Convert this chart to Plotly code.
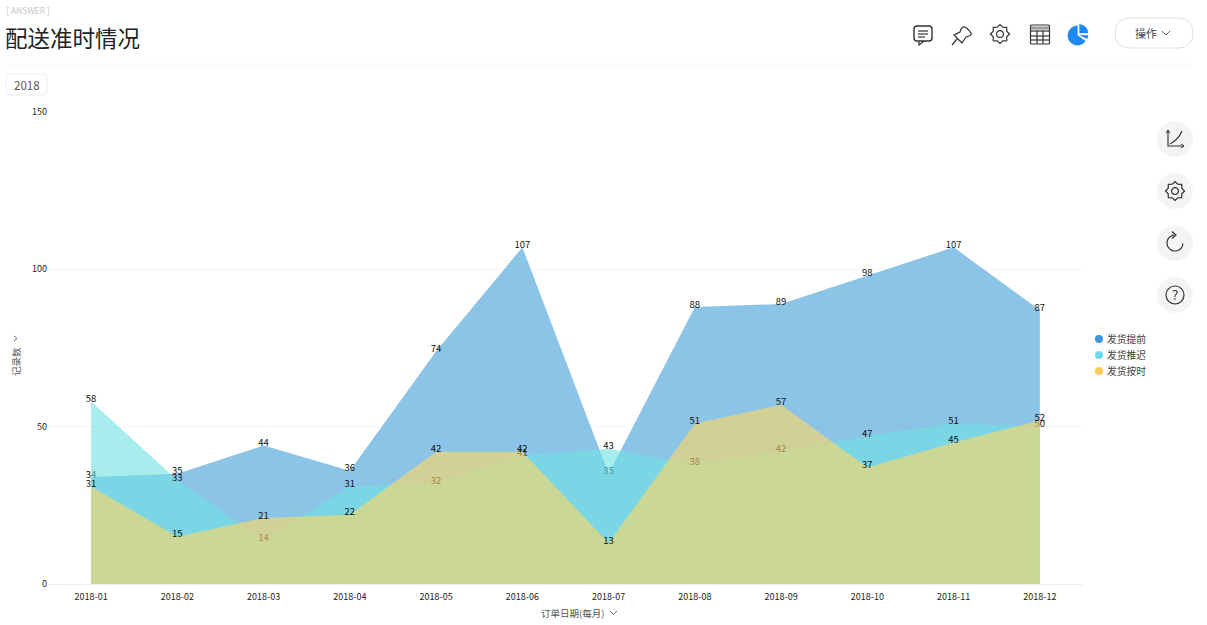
import math
import plotly.graph_objects as go

months = ["2018-01","2018-02","2018-03","2018-04","2018-05","2018-06","2018-07","2018-08","2018-09","2018-10","2018-11","2018-12"]
early = [34,35,44,36,74,107,35,88,89,98,107,87]
late = [58,33,14,31,32,41,43,38,42,47,51,50]
ontime = [31,15,21,22,42,42,13,51,57,37,45,52]
names = ["发货提前","发货推迟","发货按时"]
legend_colors = ["#3c97da","#6fd8f1","#ffcb5c"]
fill_colors = ["rgba(63,157,217,0.6)","rgba(110,225,225,0.6)","rgba(255,217,97,0.6)"]
y_ticks = [0,50,100,150]
FONT = "Noto Sans CJK SC, Noto Sans, sans-serif"
W, H = 1207, 625

fig = go.Figure()
for name, vals, fc in zip(names, [early, late, ontime], fill_colors):
    fig.add_trace(go.Scatter(x=months, y=vals, name=name, mode="lines+text", fill="tozeroy",
        fillcolor=fc, line=dict(width=0, color=fc), text=vals, textposition="top center",
        textfont=dict(size=9.5, color="#111", family=FONT), cliponaxis=False, showlegend=False,
        hoverinfo="x+y+name"))
fig.add_trace(go.Scatter(x=[None], y=[None], xaxis="x2", yaxis="y2", showlegend=False, hoverinfo="skip"))

shapes, ann = [], []
def P(d, color="#333", width=1.2, fill=None):
    shapes.append(dict(type="path", path=d, xref="x2", yref="y2", line=dict(color=color, width=width),
                       fillcolor=fill or "rgba(0,0,0,0)", layer="above"))
def L(x0, y0, x1, y1, color="#333", width=1.2):
    shapes.append(dict(type="line", x0=x0, y0=y0, x1=x1, y1=y1, xref="x2", yref="y2",
                       line=dict(color=color, width=width), layer="above"))
def C(cx, cy, r, line="rgba(0,0,0,0)", fill=None, width=1.2):
    shapes.append(dict(type="circle", x0=cx-r, x1=cx+r, y0=cy-r, y1=cy+r, xref="x2", yref="y2",
                       line=dict(color=line, width=width), fillcolor=fill or "rgba(0,0,0,0)", layer="above"))
def RR(x0, y0, x1, y1, r):
    return (f"M{x0+r},{y0} L{x1-r},{y0} Q{x1},{y0} {x1},{y0+r} L{x1},{y1-r} Q{x1},{y1} {x1-r},{y1} "
            f"L{x0+r},{y1} Q{x0},{y1} {x0},{y1-r} L{x0},{y0+r} Q{x0},{y0} {x0+r},{y0} Z")
def T(x, y, text, size=10, color="#333", anchor="left", angle=0):
    ann.append(dict(x=x, y=y, xref="x2", yref="y2", text=text, showarrow=False, xanchor=anchor, yanchor="middle",
                    font=dict(size=size, color=color, family=FONT), textangle=angle))
def arc(cx, cy, r, a0, a1, n=24):
    return [f"{cx+r*math.cos(math.radians(a0+(a1-a0)*i/n)):.2f},{cy+r*math.sin(math.radians(a0+(a1-a0)*i/n)):.2f}" for i in range(n+1)]
def wedge(cx, cy, r, a0, a1, col):
    P(f"M{cx},{cy} L"+" L".join(arc(cx, cy, r, a0, a1))+" Z", col, 0.3, col)
def gear(cx, cy, r):
    pts = []
    for i in range(16):
        rr = r if i % 2 == 0 else r*0.78
        a = i*math.pi/8
        pts.append(f"{cx+rr*math.cos(a):.1f},{cy+rr*math.sin(a):.1f}")
    P("M"+" L".join(pts)+" Z", "#333", 1.2)
    C(cx, cy, r*0.36, "#333")

# header
T(4, 10, "[ ANSWER ]", 8.5, "#c8c8c8")
T(3, 37, "配送准时情况", 22.5, "#222")
L(5, 64, 1193, 64, "#f4f4f4", 1)
P(RR(6, 74, 47, 95, 4), "#ececec", 1)
T(26.5, 85, "2018", 11.5, "#555", "center")

# toolbar icons
P(RR(914, 26, 932, 41, 3), "#333", 1.4)
L(918, 31, 928, 31); L(918, 34, 928, 34); L(918, 37, 925, 37)
P("M919,41 L919,45 L924,41", "#333")
P("M963,27 Q966,26 971,33 Q972,35 969,36 L966,37 L962,43 L954,35 L960,32 L961,29 Z M957,39 L952,45", "#333")
gear(1000, 34, 9.5)
P(RR(1030.5, 25, 1049.5, 44, 1), "#333")
L(1031, 31, 1049, 31); L(1031, 36, 1049, 36); L(1031, 40, 1049, 40); L(1037, 31, 1037, 44); L(1043, 31, 1043, 44)
L(1031, 28, 1049, 28, "#999", 3)
wedge(1077.5, 35.5, 9.7, 35, 270, "#1e88f5")
wedge(1079.5, 33, 8.5, -90, 0, "#1e88f5")
wedge(1079.5, 35.2, 8.5, 0, 24, "#1e88f5")
P(RR(1115, 18, 1193, 48, 15), "#e0e0e0", 1)
T(1146, 33, "操作", 11, "#444", "center")
P("M1162,31 L1166,35 L1170,31", "#666", 1)

# side buttons
for cy in (139, 191, 243, 295):
    C(1175, cy, 18, fill="#f5f4f2")
P("M1168,130 L1168,146 L1184,146", "#333")
P("M1166,133 L1168,130 L1170,133 M1181,144 L1184,146 L1181,148", "#333", 1)
P("M1170,144 Q1178,140 1182,131", "#333")
gear(1175, 191, 9.5)
P("M"+" L".join(arc(1175, 243, 8, -95, -355)), "#333")
P("M1172,231.5 L1176,235 L1172,238.5", "#333")
C(1175, 295, 9, "#333")
T(1175, 294.5, "?", 13, "#333", "center")

# legend
for nm, col, y in zip(names, legend_colors, (339, 355, 371)):
    C(1099, y, 4, fill=col)
    T(1105, y, nm, 9.75, "#444")

# axis titles
T(16, 362, "记录数", 9.5, "#555", "center", -90)
P("M14,336 L17,338.5 L14,341", "#666", 1)
T(572, 613, "订单日期(每月)", 9.5, "#555", "center")
P("M610,611 L613.5,614.5 L617,611", "#666", 1)

fig.update_layout(
    width=W, height=H, margin=dict(l=0, r=0, t=0, b=0, pad=0, autoexpand=False), paper_bgcolor="white", plot_bgcolor="rgba(0,0,0,0)",
    font=dict(family=FONT), showlegend=False, shapes=shapes, annotations=ann,
    xaxis=dict(domain=[48/W, 1083/W], type="category", categoryorder="array", categoryarray=months,
               range=[-0.5, 11.5], showgrid=False, showline=True, linecolor="#eeeeee", linewidth=1,
               ticks="", ticklabelstandoff=4, tickfont=dict(size=9, color="#222"), anchor="y", fixedrange=True),
    yaxis=dict(domain=[1-584/H, 1-112/H], range=[0, 150], tickvals=y_ticks, showgrid=True, gridcolor="#f5f5f5",
               gridwidth=1, zeroline=False, showline=False, ticks="", tickfont=dict(size=9, color="#222"),
               anchor="x", fixedrange=True),
    xaxis2=dict(domain=[0, 1], range=[0, W], visible=False, anchor="y2", fixedrange=True),
    yaxis2=dict(domain=[0, 1], range=[H, 0], visible=False, anchor="x2", fixedrange=True),
)
post = ("document.body.style.margin='0';"
        "var s=document.createElement('style');"
        "s.textContent='.scatterlayer .textpoint text{transform:translateY(3px)}';"
        "document.head.appendChild(s);")
fig.write_html("out.html", post_script=post, config=dict(displayModeBar=False))
